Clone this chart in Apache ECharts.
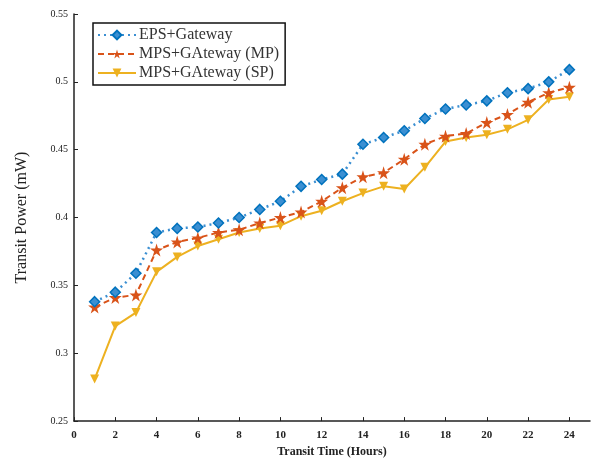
<!DOCTYPE html>
<html>
<head>
<meta charset="utf-8">
<script src="https://cdn.jsdelivr.net/npm/echarts@6/dist/echarts.min.js"></script>
<style>
  html, body { margin: 0; padding: 0; background: #fff; }
  #chart { width: 592px; height: 463px; }
</style>
</head>
<body>
<div id="chart"></div>
<script>
// transit time in hours
const hours = [1, 2, 3, 4, 5, 6, 7, 8, 9, 10, 11, 12, 13, 14, 15, 16, 17, 18, 19, 20, 21, 22, 23, 24];

// transit power (mW)
const epsGateway = [0.338, 0.345, 0.359, 0.389, 0.392, 0.393, 0.396, 0.400, 0.406, 0.412, 0.423, 0.428,
  0.432, 0.454, 0.459, 0.464, 0.473, 0.480, 0.483, 0.486, 0.492, 0.495, 0.500, 0.509];
const mpsGatewayMP = [0.334, 0.341, 0.343, 0.376, 0.382, 0.385, 0.389, 0.391, 0.396, 0.400, 0.404, 0.412,
  0.422, 0.430, 0.433, 0.443, 0.454, 0.460, 0.462, 0.470, 0.476, 0.485, 0.492, 0.496];
const mpsGatewaySP = [0.281, 0.320, 0.330, 0.360, 0.371, 0.379, 0.384, 0.389, 0.392, 0.394, 0.401, 0.405,
  0.412, 0.418, 0.423, 0.421, 0.437, 0.456, 0.459, 0.461, 0.465, 0.472, 0.487, 0.489];

const seriesNames = ['EPS+Gateway', 'MPS+GAteway (MP)', 'MPS+GAteway (SP)'];

const FONT = '"Liberation Serif", "DejaVu Serif", serif';
const STAR = 'path://M50,0 L61,35 L98,35 L68,57 L79,91 L50,70 L21,91 L32,57 L2,35 L39,35 Z';

const pairs = (ys) => hours.map((h, i) => [h, ys[i]]);

const chart = echarts.init(document.getElementById('chart'));
chart.setOption({
  animation: false,
  backgroundColor: '#fff',
  grid: { left: 74, top: 14, right: 2, bottom: 41 },
  legend: {
    orient: 'vertical',
    left: 93,
    top: 23,
    padding: [4, 6, 4, 4],
    itemGap: 3,
    itemWidth: 38,
    itemHeight: 11,
    borderColor: '#111',
    borderWidth: 1.5,
    textStyle: { fontFamily: FONT, fontSize: 16, color: '#333', padding: [0, 0, 0, -2] },
    data: seriesNames
  },
  xAxis: {
    type: 'value',
    min: 0,
    max: 25,
    interval: 2,
    name: 'Transit Time (Hours)',
    nameLocation: 'middle',
    nameGap: 24,
    nameTextStyle: { fontFamily: FONT, fontSize: 12, fontWeight: 'bold', color: '#222' },
    splitLine: { show: false },
    axisLine: { lineStyle: { color: '#222', width: 1.5 } },
    axisTick: { inside: true, length: 4, lineStyle: { color: '#222' } },
    axisLabel: {
      showMaxLabel: false,
      margin: 9,
      fontFamily: FONT, fontSize: 11, fontWeight: 'bold', color: '#222',
      formatter: (v) => (v % 2 === 0 ? String(v) : '')
    }
  },
  yAxis: {
    type: 'value',
    min: 0.25,
    max: 0.55,
    interval: 0.05,
    name: 'Transit Power (mW)',
    nameLocation: 'middle',
    nameGap: 44,
    nameTextStyle: { fontFamily: FONT, fontSize: 16, color: '#222' },
    splitLine: { show: false },
    axisLine: { show: true, lineStyle: { color: '#222', width: 1.5 } },
    axisTick: { inside: true, length: 4, lineStyle: { color: '#222' } },
    axisLabel: {
      margin: 6,
      fontFamily: FONT, fontSize: 10, color: '#222',
      formatter: (v) => String(parseFloat(v.toFixed(2)))
    }
  },
  series: [
    {
      name: seriesNames[0],
      type: 'line',
      data: pairs(epsGateway),
      color: '#0072BD',
      symbol: 'diamond',
      symbolSize: 10,
      itemStyle: { color: '#3b8fd2', borderColor: '#0072BD', borderWidth: 1.5 },
      lineStyle: { width: 2.5, type: [2, 4] },
      z: 3
    },
    {
      name: seriesNames[1],
      type: 'line',
      data: pairs(mpsGatewayMP),
      color: '#D95319',
      symbol: STAR,
      symbolSize: 13,
      itemStyle: { color: '#D95319' },
      lineStyle: { width: 2, type: [6, 4] },
      z: 2
    },
    {
      name: seriesNames[2],
      type: 'line',
      data: pairs(mpsGatewaySP),
      color: '#EDB120',
      symbol: 'triangle',
      symbolRotate: 180,
      symbolSize: 9,
      itemStyle: { color: '#EDB120' },
      lineStyle: { width: 2 },
      z: 1
    }
  ]
});
</script>
</body>
</html>
